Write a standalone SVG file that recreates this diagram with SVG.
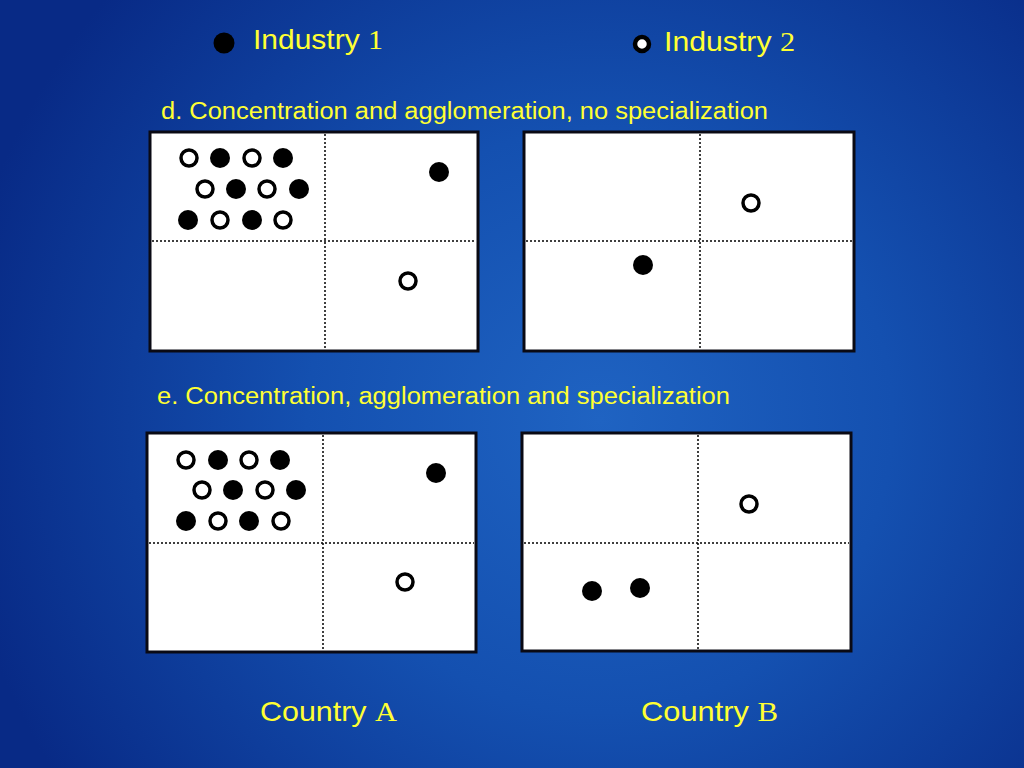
<svg xmlns="http://www.w3.org/2000/svg" width="1024" height="768" viewBox="0 0 1024 768">
<defs>
<radialGradient id="bg" cx="600" cy="420" r="650" gradientUnits="userSpaceOnUse">
<stop offset="0" stop-color="#1f63c2"/>
<stop offset="0.45" stop-color="#1450b0"/>
<stop offset="1" stop-color="#082a86"/>
</radialGradient>
<style>
.box{fill:#ffffff;stroke:#0a0a14;stroke-width:3}
.div{stroke:#000;stroke-width:1.5;stroke-dasharray:2 2;fill:none}
.f{fill:#000}
.o{fill:#fff;stroke:#000;stroke-width:3.5}
.t{fill:#ffff33;font-family:"Liberation Sans",Arial,sans-serif}
.tm{font-family:"Liberation Serif","Times New Roman",serif}
</style>
</defs>
<rect width="1024" height="768" fill="url(#bg)"/>

<g id="legend">
<circle class="f" cx="224" cy="43" r="10.5"/>
<text class="t" x="253" y="49" font-size="28" textLength="130" lengthAdjust="spacingAndGlyphs">Industry <tspan class="tm">1</tspan></text>
<circle cx="642" cy="44" r="7" fill="#fff" stroke="#000" stroke-width="4.5"/>
<text class="t" x="664" y="51" font-size="28" textLength="131" lengthAdjust="spacingAndGlyphs">Industry <tspan class="tm">2</tspan></text>
</g>

<text class="t" x="161" y="119" font-size="23.5" textLength="607" lengthAdjust="spacingAndGlyphs">d. Concentration and agglomeration, no specialization</text>
<text class="t" x="157" y="404" font-size="23" textLength="573" lengthAdjust="spacingAndGlyphs">e. Concentration, agglomeration and specialization</text>

<g id="d-countryA">
<rect class="box" x="150" y="132" width="328" height="219"/>
<line class="div" x1="325" y1="134" x2="325" y2="349"/>
<line class="div" x1="152" y1="241" x2="476" y2="241"/>
<circle class="o" cx="189" cy="158" r="8"/>
<circle class="f" cx="220" cy="158" r="10"/>
<circle class="o" cx="252" cy="158" r="8"/>
<circle class="f" cx="283" cy="158" r="10"/>
<circle class="o" cx="205" cy="189" r="8"/>
<circle class="f" cx="236" cy="189" r="10"/>
<circle class="o" cx="267" cy="189" r="8"/>
<circle class="f" cx="299" cy="189" r="10"/>
<circle class="f" cx="188" cy="220" r="10"/>
<circle class="o" cx="220" cy="220" r="8"/>
<circle class="f" cx="252" cy="220" r="10"/>
<circle class="o" cx="283" cy="220" r="8"/>
<circle class="f" cx="439" cy="172" r="10"/>
<circle class="o" cx="408" cy="281" r="8"/>
</g>

<g id="d-countryB">
<rect class="box" x="524" y="132" width="330" height="219"/>
<line class="div" x1="700" y1="134" x2="700" y2="349"/>
<line class="div" x1="526" y1="241" x2="852" y2="241"/>
<circle class="o" cx="751" cy="203" r="8"/>
<circle class="f" cx="643" cy="265" r="10"/>
</g>

<g id="e-countryA">
<rect class="box" x="147" y="433" width="329" height="219"/>
<line class="div" x1="323" y1="435" x2="323" y2="650"/>
<line class="div" x1="149" y1="543" x2="474" y2="543"/>
<circle class="o" cx="186" cy="460" r="8"/>
<circle class="f" cx="218" cy="460" r="10"/>
<circle class="o" cx="249" cy="460" r="8"/>
<circle class="f" cx="280" cy="460" r="10"/>
<circle class="o" cx="202" cy="490" r="8"/>
<circle class="f" cx="233" cy="490" r="10"/>
<circle class="o" cx="265" cy="490" r="8"/>
<circle class="f" cx="296" cy="490" r="10"/>
<circle class="f" cx="186" cy="521" r="10"/>
<circle class="o" cx="218" cy="521" r="8"/>
<circle class="f" cx="249" cy="521" r="10"/>
<circle class="o" cx="281" cy="521" r="8"/>
<circle class="f" cx="436" cy="473" r="10"/>
<circle class="o" cx="405" cy="582" r="8"/>
</g>

<g id="e-countryB">
<rect class="box" x="522" y="433" width="329" height="218"/>
<line class="div" x1="698" y1="435" x2="698" y2="649"/>
<line class="div" x1="524" y1="543" x2="849" y2="543"/>
<circle class="o" cx="749" cy="504" r="8"/>
<circle class="f" cx="592" cy="591" r="10"/>
<circle class="f" cx="640" cy="588" r="10"/>
</g>

<text class="t" x="260" y="721" font-size="28" textLength="137" lengthAdjust="spacingAndGlyphs">Country <tspan class="tm">A</tspan></text>
<text class="t" x="641" y="721" font-size="28" textLength="137" lengthAdjust="spacingAndGlyphs">Country <tspan class="tm">B</tspan></text>
</svg>
